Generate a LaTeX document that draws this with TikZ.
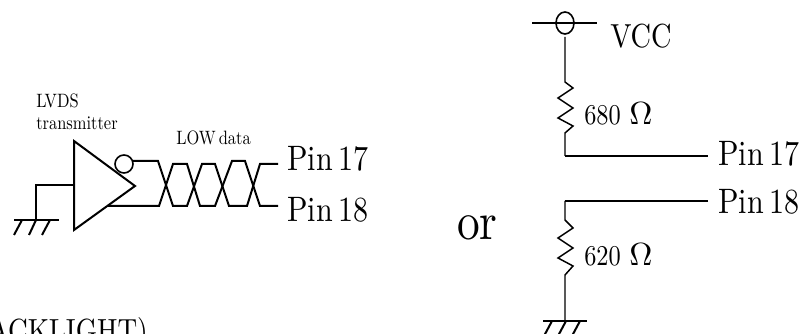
\documentclass[tikz,border=0pt]{standalone}
\usepackage{fontspec}
\usetikzlibrary{shapes.geometric}
\setmainfont{lmroman10-regular.otf}[FakeStretch=0.85,WordSpace=0.55]
\newfontfamily\omfont{lmroman10-regular.otf}
\tikzset{
    wire/.style={line width=1.5pt},
    thin wire/.style={line width=1.1pt},
    lbl/.style={inner sep=0pt, anchor=base west},
    big/.style={lbl, font=\fontsize{26.5}{27}\selectfont},
    mid/.style={lbl, font=\fontsize{21.5}{22}\selectfont},
    small/.style={lbl, font=\fontsize{14.5}{15}\selectfont},
    bubble/.style={circle, draw, line width=1.2pt, inner sep=0pt, minimum size=13.5pt}
}

\begin{document}
\begin{tikzpicture}[x=0.75pt,y=-0.75pt]
\useasboundingbox (0,0) rectangle (799,334);
\clip (0,0) rectangle (799,334);
% left: transmitter
\coordinate (triA) at (74,141);
\coordinate (triB) at (74,230);
\coordinate (triTip) at (135,186);
\draw[wire] (triA)--(triTip)--(triB)--cycle;
\node[bubble] (bubl) at (124,164) {};
\coordinate (inp) at (74,185);
\coordinate (inpC) at (36,185);
\coordinate (gndL) at (36,220);
\draw[wire] (inp)--(inpC)--(gndL);
\draw[wire] (14,220)--(59,220);
\draw[wire] (22,220)--(14,235);
\draw[wire] (36,220)--(29,235);
\draw[wire] (50,220)--(42,235);
% twisted pair
\coordinate (outA) at (133,161);
\coordinate (outB) at (108,206);
\coordinate (pinA) at (278,164);
\coordinate (pinB) at (278,206);
\draw[wire] (outA)--(158,161)--(173,206)--(187,206)--(202,164)--(215,164)
    --(229,206)--(247,206)--(260,164)--(pinA);
\draw[wire] (outB)--(159,206)--(173,164)--(187,164)--(200,206)--(215,206)
    --(232,161)--(245,161)--(260,206)--(pinB);
\node[small] (lvds) at (36,108) {LVDS};
\node[small] (trans) at (36,130) {transmitter};
\node[small] (lowd) at (176,145) {LOW data};
\node[big] (pinL17) at (287,171) {Pin 17};
\node[big] (pinL18) at (287,222) {Pin 18};
\node[big,anchor=base east,font=\fontsize{24}{24}\selectfont] (bl) at (148,342) {ACKLIGHT)};
% right: vcc branch
\node[big,font=\fontsize{25}{25}\selectfont] (vcc) at (610,48) {VCC};
\draw[wire] (532,23)--(597,23);
\node[ellipse,draw,line width=1.2pt,minimum width=13.5pt,minimum height=16.5pt,inner sep=0pt] (vccC) at (565,23) {};
\coordinate (rAt) at (565,82);
\coordinate (rAb) at (565,133);
\coordinate (cornA) at (565,156);
\coordinate (endA) at (708,156);
\draw[thin wire] (565,37)--(rAt)--(573,88)--(558,98)--(573,108)--(558,118)--(573,126)--(rAb)--(cornA);
\draw[wire] (cornA)--(endA);
\node[mid] (r680) at (584,125) {680 \hspace{3pt}{\omfont\fontsize{24}{24}\selectfont Ω}};
\node[big] (pinR17) at (718,166) {Pin 17};
% right: ground branch
\coordinate (cornB) at (565,201);
\coordinate (endB) at (708,201);
\coordinate (rBt) at (565,220);
\coordinate (rBb) at (565,275);
\coordinate (gndR) at (565,321);
\draw[wire] (endB)--(cornB);
\draw[thin wire] (cornB)--(rBt)--(573,228)--(558,238)--(573,248)--(558,258)--(573,266)--(rBb)--(gndR);
\draw[wire] (543,321)--(587,321);
\draw[wire] (552,321)--(544,336);
\draw[wire] (566,321)--(558,336);
\draw[wire] (580,321)--(572,336);
\node[mid] (r620) at (584,266) {620 \hspace{3pt}{\omfont\fontsize{24}{24}\selectfont Ω}};
\node[big] (pinR18) at (718,214) {Pin 18};
\node[lbl,font=\fontsize{40}{40}\selectfont] (orL) at (457,240) {or};
\end{tikzpicture}
\end{document}
